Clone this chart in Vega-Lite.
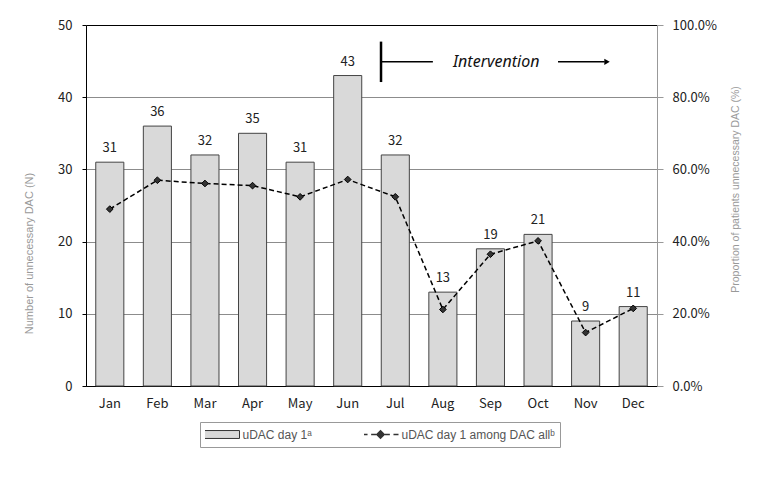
{
  "$schema": "https://vega.github.io/schema/vega-lite/v6.json",
  "width": 571,
  "height": 361,
  "autosize": {"type": "none"},
  "padding": {"left": 86, "top": 25, "right": 108, "bottom": 99},
  "background": "white",
  "config": {"view": {"stroke": null}, "font": "Noto Sans CJK KR"},
  "data": {
    "values": [
      {"month": "Jan", "count": 31, "prop": 0.490},
      {"month": "Feb", "count": 36, "prop": 0.570},
      {"month": "Mar", "count": 32, "prop": 0.561},
      {"month": "Apr", "count": 35, "prop": 0.555},
      {"month": "May", "count": 31, "prop": 0.524},
      {"month": "Jun", "count": 43, "prop": 0.572},
      {"month": "Jul", "count": 32, "prop": 0.524},
      {"month": "Aug", "count": 13, "prop": 0.212},
      {"month": "Sep", "count": 19, "prop": 0.365},
      {"month": "Oct", "count": 21, "prop": 0.402},
      {"month": "Nov", "count": 9, "prop": 0.148},
      {"month": "Dec", "count": 11, "prop": 0.215}
    ]
  },
  "resolve": {"scale": {"x": "independent", "y": "independent"}},
  "layer": [
    {
      "encoding": {
        "x": {
          "field": "month", "type": "ordinal", "sort": null,
          "scale": {"paddingInner": 0.41, "paddingOuter": 0.205},
          "axis": {"title": null, "ticks": false, "labelPadding": 11, "domainColor": "#000", "labelFontSize": 13, "labelColor": "#222", "labelAngle": 0}
        },
        "y": {
          "field": "count", "type": "quantitative",
          "scale": {"domain": [0, 50]},
          "axis": {
            "values": [0, 10, 20, 30, 40, 50],
            "grid": true,
            "gridColor": {"condition": {"test": "datum.value === 0 || datum.value === 50", "value": "#000"}, "value": "#8c8c8c"},
            "domainColor": "#000", "tickColor": "#000", "tickSize": 4, "labelPadding": 10,
            "labelFontSize": 13, "labelColor": "#222",
            "title": "Number of unnecessary DAC (N)",
            "titleFont": "Liberation Sans", "titleFontWeight": "normal", "titleColor": "#999", "titleFontSize": 11,
            "titleX": -52, "titleY": 228
          }
        }
      },
      "layer": [
        {
          "mark": {"type": "bar", "stroke": "#444", "strokeWidth": 1},
          "encoding": {
            "fill": {
              "datum": "uDAC day 1ᵃ", "type": "nominal",
              "scale": {"domain": ["uDAC day 1ᵃ", "uDAC day 1 among DAC allᵇ"], "range": ["#d9d9d9", "#333333"]},
              "legend": {
                "title": null, "orient": "none", "legendX": 114, "legendY": 397,
                "direction": "horizontal", "columns": 2, "columnPadding": 52, "gridAlign": "each",
                "padding": 5, "strokeColor": "#999", "fillColor": "white",
                "symbolSize": 1296, "clipHeight": 15, "symbolOffset": 10.5,
                "labelFont": "Liberation Sans", "labelFontSize": 12, "labelColor": "#555", "labelOffset": 15,
                "symbolStrokeColor": "#333", "symbolStrokeWidth": 1.2, "symbolOpacity": 1,
                "encode": {
                  "symbols": {
                    "update": {
                      "shape": {"signal": "datum.value === 'uDAC day 1ᵃ' ? 'M-1,-0.22H1V0.22H-1Z' : 'M-1,0H-0.72M-0.52,0H-0.24M0.24,0H0.52M0.72,0H1M0,-0.2L0.2,0L0,0.2L-0.2,0Z'"},
                      "strokeWidth": {"signal": "datum.value === 'uDAC day 1ᵃ' ? 1 : 1.6"}
                    }
                  }
                }
              }
            }
          }
        },
        {
          "mark": {"type": "text", "baseline": "bottom", "dy": -7, "fontSize": 13, "color": "#222"},
          "encoding": {"text": {"field": "count", "type": "quantitative"}}
        }
      ]
    },
    {
      "encoding": {
        "x": {"field": "month", "type": "ordinal", "sort": null, "scale": {"type": "point", "padding": 0.5}, "axis": null},
        "y": {
          "field": "prop", "type": "quantitative",
          "scale": {"domain": [0, 1]},
          "axis": {
            "orient": "right", "format": ".1%", "values": [0, 0.2, 0.4, 0.6, 0.8, 1],
            "grid": false, "domainColor": "#999", "tickColor": "#999", "tickSize": 6, "labelPadding": 9,
            "labelFontSize": 13, "labelColor": "#222",
            "title": "Proportion of patients unnecessary DAC (%)",
            "titleFont": "Liberation Sans", "titleFontWeight": "normal", "titleColor": "#999", "titleFontSize": 10.5,
            "titleAngle": 270, "titleX": 83, "titleY": 164
          }
        }
      },
      "layer": [
        {"mark": {"type": "line", "color": "#000", "strokeDash": [5, 3], "strokeWidth": 1.5}},
        {"mark": {"type": "point", "shape": "diamond", "filled": true, "fill": "#333", "stroke": "#000", "strokeWidth": 1, "size": 45, "opacity": 1}}
      ]
    },
    {
      "layer": [
        {
          "data": {"values": [{"x": 6.2, "y": 42.1, "y2": 47.7}]},
          "mark": {"type": "rule", "strokeWidth": 2.5, "color": "#000"},
          "encoding": {
            "x": {"field": "x", "type": "quantitative", "scale": {"domain": [0, 12]}, "axis": null},
            "y": {"field": "y", "type": "quantitative", "scale": {"domain": [0, 50]}, "axis": null},
            "y2": {"field": "y2"}
          }
        },
        {
          "data": {"values": [{"x": 6.2, "x2": 7.29, "y": 44.9}, {"x": 9.92, "x2": 10.9, "y": 44.9}]},
          "mark": {"type": "rule", "strokeWidth": 1.5, "color": "#000"},
          "encoding": {
            "x": {"field": "x", "type": "quantitative", "scale": {"domain": [0, 12]}, "axis": null},
            "x2": {"field": "x2"},
            "y": {"field": "y", "type": "quantitative", "scale": {"domain": [0, 50]}, "axis": null}
          }
        },
        {
          "data": {"values": [{"x": 8.62, "y": 44.9, "label": "Intervention"}]},
          "mark": {"type": "text", "fontStyle": "italic", "fontSize": 16, "font": "Noto Sans", "color": "#111"},
          "encoding": {
            "x": {"field": "x", "type": "quantitative", "scale": {"domain": [0, 12]}, "axis": null},
            "y": {"field": "y", "type": "quantitative", "scale": {"domain": [0, 50]}, "axis": null},
            "text": {"field": "label"}
          }
        },
        {
          "data": {"values": [{"x": 10.95, "y": 44.9}]},
          "mark": {"type": "point", "shape": "triangle-right", "filled": true, "color": "#000", "size": 40, "opacity": 1},
          "encoding": {
            "x": {"field": "x", "type": "quantitative", "scale": {"domain": [0, 12]}, "axis": null},
            "y": {"field": "y", "type": "quantitative", "scale": {"domain": [0, 50]}, "axis": null}
          }
        }
      ]
    }
  ]
}
